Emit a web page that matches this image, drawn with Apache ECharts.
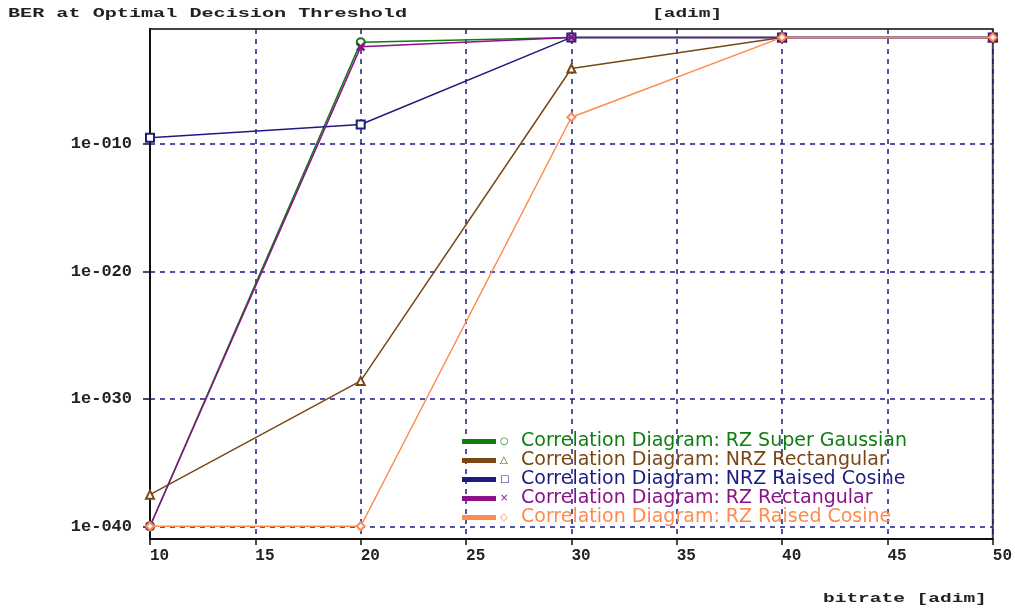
<!DOCTYPE html>
<html>
<head>
<meta charset="utf-8">
<script src="https://cdn.jsdelivr.net/npm/echarts@6/dist/echarts.min.js"></script>
<style>html,body{margin:0;padding:0;background:#fff}#c{width:1015px;height:610px}</style>
</head>
<body>
<div id="c"></div>
<script>
const bitrate = [10, 20, 30, 40, 50];
const seriesNames = [
  'Correlation Diagram: RZ Super Gaussian',
  'Correlation Diagram: NRZ Rectangular',
  'Correlation Diagram: NRZ Raised Cosine',
  'Correlation Diagram: RZ Rectangular',
  'Correlation Diagram: RZ Raised Cosine'
];
const rzSuperGaussian = [1e-40, 9e-3, 2.2e-2, 2.2e-2, 2.2e-2];
const nrzRectangular = [3e-38, 2.5e-29, 8e-5, 2.2e-2, 2.2e-2];
const nrzRaisedCosine = [3e-10, 3.2e-9, 2.2e-2, 2.2e-2, 2.2e-2];
const rzRectangular = [1e-40, 4e-3, 2.2e-2, 2.2e-2, 2.2e-2];
const rzRaisedCosine = [1e-40, 1e-40, 1.2e-8, 2.2e-2, 2.2e-2];
const yTickValues = [1e-40, 1e-30, 1e-20, 1e-10];
const yTickLabels = ['1e-040', '1e-030', '1e-020', '1e-010'];
const xTickLabels = ['10', '15', '20', '25', '30', '35', '40', '45', '50'];

const colors = ['#0f7d0f', '#7a4614', '#1c1c80', '#8a118a', '#ff8a4f'];
const legendGlyphs = ['\u25CB', '\u25B3', '\u25A1', '\u00D7', '\u25C7'];
const crossPath = 'path://M0,1L1,0L5,4L9,0L10,1L6,5L10,9L9,10L5,6L1,10L0,9L4,5Z';
const symbols = ['emptyCircle', 'emptyTriangle', 'emptyRect', crossPath, 'emptyDiamond'];
const allData = [rzSuperGaussian, nrzRectangular, nrzRaisedCosine, rzRectangular, rzRaisedCosine];

const mono = 'Liberation Mono';
const gridColor = '#1a1a8c';

const chart = echarts.init(document.getElementById('c'));
chart.setOption({
  animation: false,
  backgroundColor: '#ffffff',
  color: colors,
  grid: { left: 150, top: 29, right: 22, bottom: 71, show: true, borderColor: '#444', borderWidth: 2, backgroundColor: 'transparent' },
  xAxis: {
    type: 'value', min: 10, max: 50, interval: 5,
    axisLine: { show: true, lineStyle: { color: '#111', width: 2 } },
    axisTick: { show: true, length: 6, lineStyle: { color: '#111', width: 1.5 } },
    axisLabel: { fontFamily: mono, fontSize: 16, fontWeight: 'bold', color: '#222', margin: 9, align: 'left',
      formatter: (v) => { const i = Math.round((v - 10) / 5); return xTickLabels[i] ?? ''; } },
    splitLine: { show: true, lineStyle: { color: gridColor, type: [5, 5], width: 1.5 } }
  },
  yAxis: {
    type: 'log', logBase: 10, min: 1e-41, max: 1e-1,
    axisLine: { show: true, lineStyle: { color: '#111', width: 2 } },
    axisTick: { show: true, length: 7, lineStyle: { color: '#111', width: 1.5 }, customValues: yTickValues },
    axisLabel: { fontFamily: mono, fontSize: 17, fontWeight: 'bold', color: '#222', margin: 18, customValues: yTickValues,
      formatter: (v) => { const e = Math.round(Math.log10(v)); const i = yTickValues.findIndex(t => Math.round(Math.log10(t)) === e); return i >= 0 ? yTickLabels[i] : ''; } },
    splitLine: { show: true, lineStyle: { color: gridColor, type: [5, 5], width: 1.5 } },
    minorTick: { show: false }, minorSplitLine: { show: false }
  },
  legend: {
    orient: 'vertical', left: 462, top: 432, padding: 0,
    icon: 'path://M0,0H32V3H0Z', itemWidth: 32, itemHeight: 3, itemGap: 0,
    selectedMode: false,
    formatter: (name) => '{s|' + legendGlyphs[seriesNames.indexOf(name)] + '}' + name,
    textStyle: { fontFamily: 'DejaVu Sans', fontSize: 19, lineHeight: 18,
      rich: { s: { fontSize: 10, width: 21, fontFamily: 'DejaVu Sans' } } },
    data: seriesNames.map((n, i) => ({ name: n, textStyle: { color: colors[i] } }))
  },
  graphic: [
    { type: 'text', left: 8, top: 7, scaleX: 1.55, style: { text: 'BER at Optimal Decision Threshold', font: 'bold 13px "Liberation Mono"', fill: '#222' } },
    { type: 'text', left: 652, top: 7, scaleX: 1.5, style: { text: '[adim]', font: 'bold 13px "Liberation Mono"', fill: '#222' } },
    { type: 'text', left: 823, top: 592, scaleX: 1.5, style: { text: 'bitrate [adim]', font: 'bold 13px "Liberation Mono"', fill: '#222' } }
  ],
  series: allData.map((d, i) => ({
    name: seriesNames[i], type: 'line',
    data: bitrate.map((x, j) => [x, d[j]]),
    symbol: symbols[i], symbolSize: i === 3 ? 7 : 8, showSymbol: true,
    lineStyle: { width: 1.5, color: colors[i] },
    itemStyle: { color: colors[i], borderColor: colors[i], borderWidth: 1.5 },
    emphasis: { disabled: true }, z: 2 + i
  }))
});
</script>
</body>
</html>
